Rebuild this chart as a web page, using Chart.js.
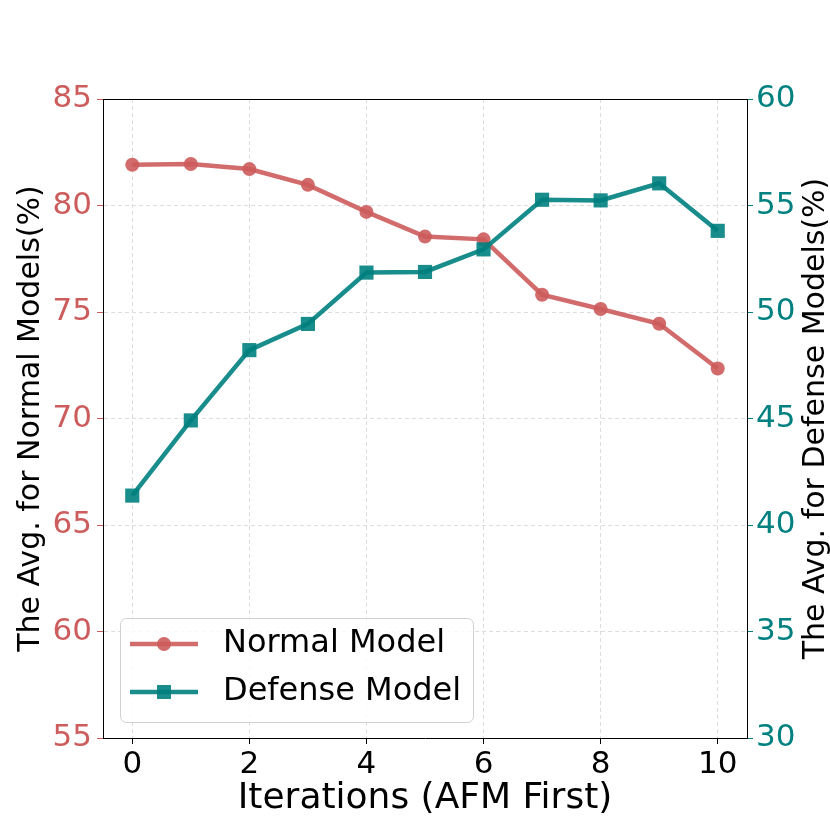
<!DOCTYPE html>
<html>
<head>
<meta charset="utf-8">
<script src="https://cdn.jsdelivr.net/npm/chart.js@4/dist/chart.umd.min.js"></script>
<style>
  html, body { margin: 0; padding: 0; background: #fff; }
  canvas { display: block; }
</style>
</head>
<body>
<canvas id="iterChart" width="830" height="830"></canvas>
<script>
const iterations = [0, 1, 2, 3, 4, 5, 6, 7, 8, 9, 10];
const normalAvg = [81.91, 81.95, 81.71, 80.97, 79.70, 78.54, 78.41, 75.81, 75.14, 74.45, 72.35];
const defenseAvg = [41.38, 44.91, 48.21, 49.44, 51.85, 51.88, 52.94, 55.27, 55.24, 56.04, 53.81];
const xTicks = [0, 2, 4, 6, 8, 10];

const RED = 'rgba(205, 92, 92, 0.9)';
const TEAL = 'rgba(0, 128, 128, 0.9)';
const FONT = "'DejaVu Sans', sans-serif";
const GRID = '#dcdcdc';

// frame on top + right axis title reading bottom-to-top
const framePlugin = {
    id: 'frame',
    beforeDatasetsDraw(chart) {
        const { ctx, chartArea: a } = chart;
        ctx.save();
        ctx.strokeStyle = '#000';
        ctx.lineWidth = 1;
        ctx.beginPath();
        ctx.moveTo(a.left, a.top + 0.5);
        ctx.lineTo(a.right, a.top + 0.5);
        ctx.stroke();
        ctx.restore();
    },
    afterDraw(chart) {
        const { ctx, chartArea: a } = chart;
        ctx.save();
        ctx.translate(816, (a.top + a.bottom) / 2);
        ctx.rotate(-Math.PI / 2);
        ctx.font = '30px ' + FONT;
        ctx.fillStyle = '#000';
        ctx.textAlign = 'center';
        ctx.textBaseline = 'middle';
        ctx.fillText('The Avg. for Defense Models(%)', 0, 0);
        ctx.restore();
    }
};

// legend box in lower left of the plot
const legendPlugin = {
    id: 'innerLegend',
    afterDraw(chart) {
        const ctx = chart.ctx;
        const box = { x: 120, y: 618, w: 353, h: 104 };
        ctx.save();
        ctx.beginPath();
        ctx.roundRect(box.x + 0.5, box.y + 0.5, box.w, box.h, 6);
        ctx.fillStyle = 'rgba(255,255,255,0.8)';
        ctx.fill();
        ctx.strokeStyle = '#d0d0d0';
        ctx.lineWidth = 1;
        ctx.stroke();

        chart.data.datasets.forEach((ds, i) => {
            const y = 644 + i * 48;
            ctx.strokeStyle = ds.borderColor;
            ctx.lineWidth = 4.5;
            ctx.beginPath();
            ctx.moveTo(130, y);
            ctx.lineTo(198, y);
            ctx.stroke();
            ctx.fillStyle = ds.pointBackgroundColor;
            if (ds.pointStyle === 'rect') {
                ctx.fillRect(164 - 7, y - 7, 14, 14);
            } else {
                ctx.beginPath();
                ctx.arc(164, y, 7, 0, Math.PI * 2);
                ctx.fill();
            }
            ctx.fillStyle = '#000';
            ctx.font = '32px ' + FONT;
            ctx.textAlign = 'left';
            ctx.textBaseline = 'middle';
            ctx.fillText(ds.label, 223, y);
        });
        ctx.restore();
    }
};

new Chart(document.getElementById('iterChart'), {
    type: 'line',
    data: {
        datasets: [
            {
                label: 'Normal Model',
                data: iterations.map((x, i) => ({ x: x, y: normalAvg[i] })),
                yAxisID: 'yL',
                borderColor: RED,
                backgroundColor: RED,
                pointBackgroundColor: RED,
                pointBorderWidth: 0,
                pointStyle: 'circle',
                pointRadius: 7,
                borderWidth: 4.5,
                tension: 0,
                order: 1
            },
            {
                label: 'Defense Model',
                data: iterations.map((x, i) => ({ x: x, y: defenseAvg[i] })),
                yAxisID: 'yR',
                borderColor: TEAL,
                backgroundColor: TEAL,
                pointBackgroundColor: TEAL,
                pointBorderWidth: 0,
                pointStyle: 'rect',
                pointRadius: 10,
                borderWidth: 4.5,
                tension: 0,
                order: 0
            }
        ]
    },
    options: {
        responsive: false,
        animation: false,
        devicePixelRatio: 1,
        layout: { padding: { top: 99, left: 0, right: 0, bottom: 0 } },
        plugins: { legend: { display: false }, tooltip: { enabled: false } },
        scales: {
            x: {
                type: 'linear',
                position: 'bottom',
                min: -0.5,
                max: 10.5,
                afterBuildTicks: s => { s.ticks = xTicks.map(v => ({ value: v })); },
                afterFit: s => { s.height = 92; },
                ticks: { color: '#000', font: { family: FONT, size: 31 }, padding: 2, maxRotation: 0 },
                grid: { color: GRID, lineWidth: 1, tickColor: '#000', tickLength: 6 },
                border: { display: true, color: '#000', width: 1, dash: [4, 3] },
                title: {
                    display: true, text: 'Iterations (AFM First)', color: '#000',
                    font: { family: FONT, size: 36 }, padding: { top: 0, bottom: 10 }
                }
            },
            yL: {
                type: 'linear',
                position: 'left',
                min: 55,
                max: 85,
                afterFit: s => { s.width = 103; },
                ticks: { stepSize: 5, color: 'rgb(205,92,92)', font: { family: FONT, size: 31 }, padding: 5 },
                grid: { color: GRID, lineWidth: 1, tickColor: 'rgb(205,92,92)', tickLength: 6 },
                border: { display: true, color: '#000', width: 1, dash: [4, 3] },
                title: {
                    display: true, text: 'The Avg. for Normal Models(%)', color: '#000',
                    font: { family: FONT, size: 30 }, padding: { top: 13, bottom: 0 }
                }
            },
            yR: {
                type: 'linear',
                position: 'right',
                min: 30,
                max: 60,
                afterFit: s => { s.width = 83; },
                ticks: { stepSize: 5, color: 'rgb(0,128,128)', font: { family: FONT, size: 31 }, padding: 3 },
                grid: { drawOnChartArea: false, tickColor: 'rgb(0,128,128)', tickLength: 6 },
                border: { display: true, color: '#000', width: 1 }
            }
        }
    },
    plugins: [framePlugin, legendPlugin]
});
</script>
</body>
</html>
